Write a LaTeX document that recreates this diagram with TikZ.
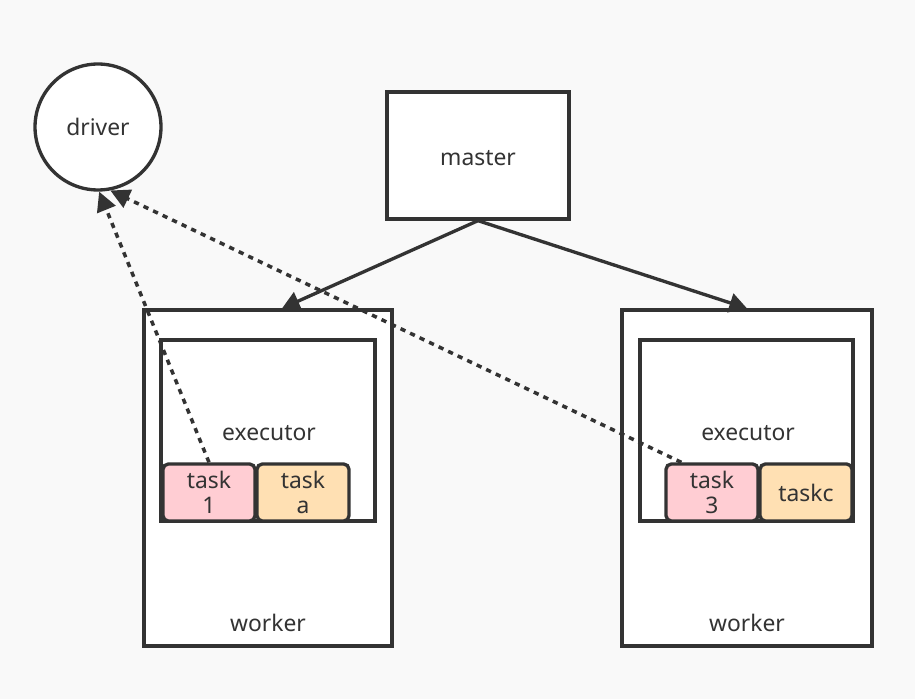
\documentclass[tikz,border=0pt]{standalone}
\usepackage{fontspec}
\setmainfont{Noto Sans}
\usetikzlibrary{arrows.meta, positioning, calc}
\definecolor{canvas}{HTML}{F9F9F9}
\definecolor{ink}{HTML}{333333}
\definecolor{taskpink}{HTML}{FFCDD3}
\definecolor{taskpeach}{HTML}{FFE0B3}

\begin{document}
\begin{tikzpicture}[
    x=0.02cm, y=-0.02cm,
    every node/.style={font=\fontsize{13}{14.5}\selectfont, text=ink},
    box/.style={draw=ink, fill=white, line width=1.9pt, inner sep=0pt},
    taskbox/.style={draw=ink, line width=1.9pt, rounded corners=3pt, inner sep=0pt,
                    minimum width=1.84cm, minimum height=1.14cm, align=center},
    flow/.style={draw=ink, line width=1.9pt, -{Triangle[length=10pt, width=11pt]}},
    report/.style={draw=ink, line width=2pt, dash pattern=on 3pt off 3pt,
                   -{Triangle[length=11pt, width=11pt]}}
]
    % canvas
    \fill[canvas] (0,0) rectangle (915,699);
    \useasboundingbox (0,0) rectangle (915,699);

    % driver and master
    \node[box, circle, minimum size=2.52cm] (driver) at (98,127) {driver};
    \node[box, minimum width=3.64cm, minimum height=2.54cm] (master) at (478,155.5) {};
    \node (mlbl) at (478,158) {master};

    % left worker
    \node[box, minimum width=4.96cm, minimum height=6.72cm] (wl) at (268,478) {};
    \node[box, minimum width=4.28cm, minimum height=3.62cm] (el) at (268,430.5) {};
    \node (wllbl) at (268,623) {worker};
    \node (ellbl) at (269,433) {executor};
    \node[taskbox, fill=taskpink] (t1) at (209,492.5) {task\\1};
    \node[taskbox, fill=taskpeach] (ta) at (303,492.5) {task\\a};

    % right worker
    \node[box, minimum width=5.0cm, minimum height=6.72cm] (wr) at (747,478) {};
    \node[box, minimum width=4.26cm, minimum height=3.62cm] (er) at (746.5,430.5) {};
    \node (wrlbl) at (747,623) {worker};
    \node (erlbl) at (748,433) {executor};
    \node[taskbox, fill=taskpink] (t3) at (712,492.5) {task\\3};
    \node[taskbox, fill=taskpeach] (tc) at (806,492.5) {taskc};

    % master to workers
    \draw[flow] (master.south) -- ([xshift=0.28cm]wl.north);
    \draw[flow] (master.south) -- (wr.north);

    % tasks report back to driver
    \draw[report] (t1.north) -- (driver.-89);
    \draw[report] ($(t3.north west)+(17,0)$) -- (driver.-79);
\end{tikzpicture}
\end{document}
